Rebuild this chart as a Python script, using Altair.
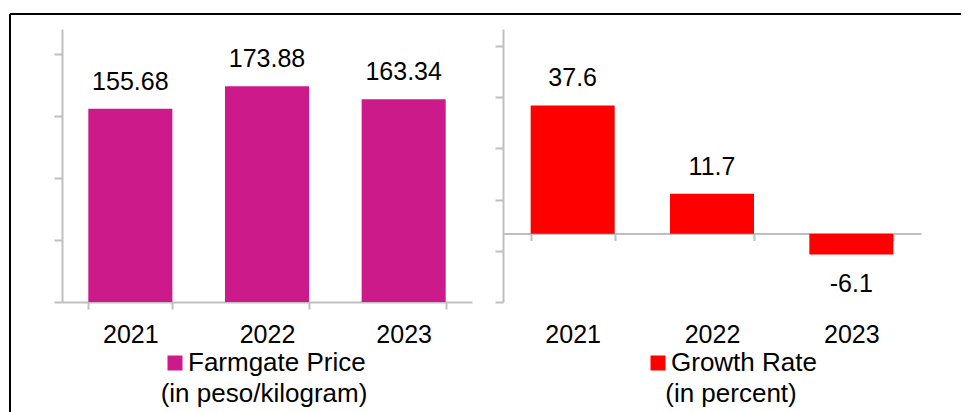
import altair as alt
import pandas as pd

# ---- data ----
years = ["2021", "2022", "2023"]
price = [155.68, 173.88, 163.34]
growth = [37.6, 11.7, -6.1]

price_series = "Farmgate Price"
price_unit = "(in peso/kilogram)"
growth_series = "Growth Rate"
growth_unit = "(in percent)"

price_ticks = [0, 50, 100, 150, 200]
growth_ticks = [-20, -5, 10, 25, 40, 55]

# ---- style ----
FONT = "Liberation Sans"
MAGENTA = "#CC1A8A"
RED = "#FF0000"
GREY = "#BFBFBF"
W, H = 953, 404

df_p = pd.DataFrame({"Year": years, "Value": price, "Series": price_series,
                     "Label": [f"{v:.2f}" for v in price]})
df_g = pd.DataFrame({"Year": years, "Value": growth, "Series": growth_series,
                     "Label": [f"{v:.1f}" for v in growth]})


def x_axis(offset, label_pad):
    return alt.Axis(title=None, orient="bottom", offset=offset, labelAngle=0,
                    tickBand="extent", domainColor=GREY, domainWidth=2,
                    tickColor=GREY, tickWidth=2, tickSize=7,
                    labelFont=FONT, labelFontSize=25, labelColor="black",
                    labelPadding=label_pad)


def y_axis(offset, values):
    return alt.Axis(title=None, orient="left", offset=offset, values=values,
                    labels=False, grid=False, domainColor=GREY, domainWidth=2,
                    tickColor=GREY, tickWidth=2, tickSize=8)


def legend(title, lx, ly):
    return alt.Legend(title=title, orient="none", legendX=lx, legendY=ly,
                      titleOrient="bottom", titleAnchor="middle",
                      titleFont=FONT, titleFontSize=26, titleFontWeight="normal",
                      titleColor="black", titlePadding=5, titleLimit=500,
                      labelFont=FONT, labelFontSize=26, labelColor="black",
                      labelLimit=500, labelOffset=0,
                      symbolType="square", symbolSize=225,
                      symbolStrokeWidth=0, symbolOpacity=1, padding=0)


# ---- left panel: farmgate price ----
xl = alt.X("Year:N", sort=years,
           scale=alt.Scale(range=[54, 464], paddingInner=0.385, paddingOuter=0.1925),
           axis=x_axis(-110, 13))
yl = alt.Y("Value:Q", scale=alt.Scale(domain=[0, 220], range=[294, 21], nice=False),
           axis=y_axis(-54, price_ticks))

left_bars = alt.Chart(df_p).mark_bar().encode(
    x=xl, y=yl,
    color=alt.Color("Series:N", scale=alt.Scale(range=[MAGENTA]),
                    legend=legend(price_unit, 153, 342)))
left_text = alt.Chart(df_p).mark_text(dy=-27, font=FONT, fontSize=25, color="black").encode(
    x=alt.X("Year:N", sort=years), y="Value:Q", text="Label:N")
left = alt.layer(left_bars, left_text)

# ---- right panel: growth rate ----
xr = alt.X("Year:N", sort=years,
           scale=alt.Scale(range=[495, 913], paddingInner=0.397, paddingOuter=0.1985),
           axis=x_axis(-178.5, 81.5))
yr = alt.Y("Value:Q", scale=alt.Scale(domain=[-20, 60], range=[294, 21], nice=False),
           axis=y_axis(-495, growth_ticks))

right_bars = alt.Chart(df_g).mark_bar().encode(
    x=xr, y=yr,
    color=alt.Color("Series:N", scale=alt.Scale(range=[RED]),
                    legend=legend(growth_unit, 637, 342)))
right_pos = alt.Chart(df_g).transform_filter("datum.Value >= 0").mark_text(
    dy=-27, font=FONT, fontSize=25, color="black").encode(
    x=alt.X("Year:N", sort=years), y="Value:Q", text="Label:N")
right_neg = alt.Chart(df_g).transform_filter("datum.Value < 0").mark_text(
    dy=29, font=FONT, fontSize=25, color="black").encode(
    x=alt.X("Year:N", sort=years), y="Value:Q", text="Label:N")
right = alt.layer(right_bars, right_pos, right_neg)

# ---- outer frame (top and left edges) ----
frame_df = pd.DataFrame({"k": [0]})
frame_top = alt.Chart(frame_df).mark_rule(color="black", strokeWidth=2).encode(
    x=alt.value(2), x2=alt.value(W), y=alt.value(6))
frame_left = alt.Chart(frame_df).mark_rule(color="black", strokeWidth=2).encode(
    x=alt.value(2), y=alt.value(6), y2=alt.value(H))

chart = alt.layer(frame_top, frame_left, left, right).resolve_scale(
    x="independent", y="independent", color="independent"
).properties(
    width=W, height=H, padding=0,
    autosize=alt.AutoSizeParams(type="none"),
    background="white",
).configure_view(stroke=None)

chart.save("out.html", embed_options={"renderer": "svg", "actions": False})
